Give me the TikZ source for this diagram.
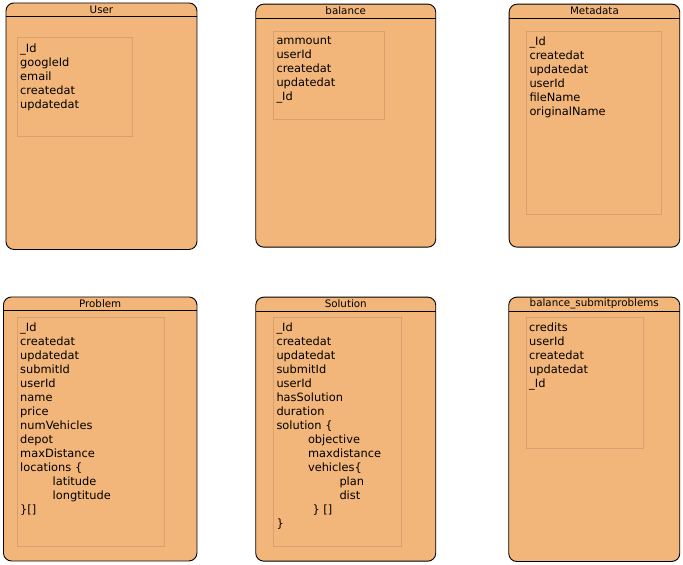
\documentclass[tikz,border=0pt]{standalone}
\usepackage{fontspec}
\setmainfont{DejaVu Sans}
\definecolor{boxfill}{RGB}{243,182,122}
\definecolor{fieldline}{RGB}{214,160,112}
\begin{document}
\begin{tikzpicture}[
    x=1pt, y=-1pt,
    entity/.style={draw, line width=0.9pt, fill=boxfill, rounded corners=8pt, anchor=north west, inner sep=0pt},
    title/.style={anchor=north, minimum height=14pt, inner sep=0pt, font=\fontsize{10.3}{12}\selectfont},
    fieldbox/.style={draw=fieldline, line width=0.6pt, anchor=north west, inner sep=0pt},
    fields/.style={anchor=north west, align=left, inner sep=0pt, font=\fontsize{11.4}{14}\selectfont, execute at begin node=\strut}
]
\useasboundingbox (0,0) rectangle (683,565);

% top row
\node[entity, minimum width=191pt, minimum height=246.5pt] (user) at (5.5,2.5) {};
\node[title, minimum width=191pt] (userT) at (user.north) {User};
\draw[line width=0.9pt] (userT.south west) -- (userT.south east);
\node[fieldbox, minimum width=115pt, minimum height=99pt] (userF) at (17,37) {};
\node[fields] (userL) at ([xshift=3pt, yshift=-7pt]userF.north west) {\_Id\\googleId\\email\\createdat\\updatedat};

\node[entity, minimum width=180pt, minimum height=243pt] (balance) at (255.3,3.7) {};
\node[title, minimum width=180pt] (balanceT) at (balance.north) {balance};
\draw[line width=0.9pt] (balanceT.south west) -- (balanceT.south east);
\node[fieldbox, minimum width=111pt, minimum height=88.6pt] (balanceF) at (273.3,30.7) {};
\node[fields] (balanceL) at ([xshift=3pt, yshift=-6pt]balanceF.north west) {ammount\\userId\\createdat\\updatedat\\\_Id};

\node[entity, minimum width=170.6pt, minimum height=243pt] (metadata) at (508.7,3.7) {};
\node[title, minimum width=170.6pt] (metadataT) at (metadata.north) {Metadata};
\draw[line width=0.9pt] (metadataT.south west) -- (metadataT.south east);
\node[fieldbox, minimum width=134.4pt, minimum height=183.6pt] (metadataF) at (526.3,30.7) {};
\node[fields] (metadataL) at ([xshift=3pt, yshift=-6pt]metadataF.north west) {\_Id\\createdat\\updatedat\\userId\\fileName\\originalName};

% bottom row
\node[entity, minimum width=193.5pt, minimum height=264pt] (problem) at (3,296.5) {};
\node[title, minimum width=193.5pt] (problemT) at (problem.north) {Problem};
\draw[line width=0.9pt] (problemT.south west) -- (problemT.south east);
\node[fieldbox, minimum width=147pt, minimum height=229.3pt] (problemF) at (17,316.7) {};
\node[fields] (problemL) at ([xshift=3pt, yshift=-5.8pt]problemF.north west) {\_Id\\createdat\\updatedat\\submitId\\userId\\name\\price\\numVehicles\\depot\\maxDistance\\locations \{\\\hspace*{32.5pt}latitude\\\hspace*{32.5pt}longtitude\\\}[]};

\node[entity, minimum width=180pt, minimum height=264pt] (solution) at (255.3,296.7) {};
\node[title, minimum width=180pt] (solutionT) at (solution.north) {Solution};
\draw[line width=0.9pt] (solutionT.south west) -- (solutionT.south east);
\node[fieldbox, minimum width=127.4pt, minimum height=229.3pt] (solutionF) at (273.3,316.7) {};
\node[fields] (solutionL) at ([xshift=3pt, yshift=-5.8pt]solutionF.north west) {\_Id\\createdat\\updatedat\\submitId\\userId\\hasSolution\\duration\\solution \{\\\hspace*{31.5pt}objective\\\hspace*{31.5pt}maxdistance\\\hspace*{31.5pt}vehicles\{\\\hspace*{63pt}plan\\\hspace*{63pt}dist\\\hspace*{36pt}\} []\\\}};

\node[entity, minimum width=171pt, minimum height=264.3pt] (balsub) at (508.3,296.7) {};
\node[title, minimum width=171pt] (balsubT) at (balsub.north) {balance\_submitproblems};
\draw[line width=0.9pt] (balsubT.south west) -- (balsubT.south east);
\node[fieldbox, minimum width=117.3pt, minimum height=131.6pt] (balsubF) at (526,316.7) {};
\node[fields] (balsubL) at ([xshift=3pt, yshift=-5.8pt]balsubF.north west) {credits\\userId\\createdat\\updatedat\\\_Id};
\end{tikzpicture}
\end{document}
